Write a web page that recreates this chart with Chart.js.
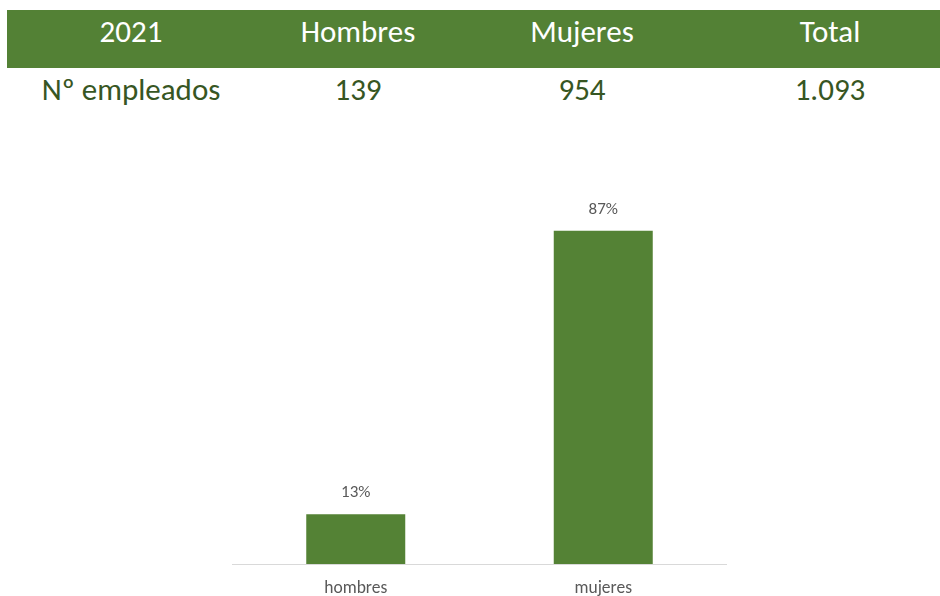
<!DOCTYPE html>
<html>
<head>
<meta charset="utf-8">
<script src="https://cdn.jsdelivr.net/npm/chart.js@4.4.0/dist/chart.umd.min.js"></script>
<style>
  body { margin: 0; width: 940px; height: 596px; background: #fff; position: relative; overflow: hidden; font-family: Carlito, Lato, sans-serif; }
  .banda { position: absolute; left: 7px; top: 10px; width: 933px; height: 58px; background: #538135; }
  .celda { position: absolute; width: 240px; text-align: center; font-size: 31px; line-height: 34px; white-space: nowrap; }
  .cab { top: 14px; color: #ffffff; }
  .fila { top: 72px; color: #375623; }
  #grafico { position: absolute; left: 232px; top: 181px; }
</style>
</head>
<body>
<div class="banda"></div>
<div id="tabla"></div>
<canvas id="grafico" width="495" height="415"></canvas>
<script>
// datos de la tabla
var cabecera = ['2021', 'Hombres', 'Mujeres', 'Total']
var empleados = ['Nº empleados', '139', '954', '1.093']

// datos del gráfico
var categorias = ['hombres', 'mujeres']
var porcentajes = [13, 87]

// centro horizontal de cada columna
var centros = [131, 358, 582, 830]

var tabla = document.getElementById('tabla')
function pintarFila(textos, clase) {
	textos.forEach(function(t, i) {
		var d = document.createElement('div')
		d.className = 'celda ' + clase
		d.style.left = (centros[i] - 120) + 'px'
		d.textContent = t
		tabla.appendChild(d)
	})
}
pintarFila(cabecera, 'cab')
pintarFila(empleados, 'fila')

// etiqueta de porcentaje encima de cada barra
var etiquetas = {
	id: 'etiquetas',
	afterDatasetsDraw: function(chart) {
		var ctx = chart.ctx
		var meta = chart.getDatasetMeta(0)
		ctx.save()
		ctx.fillStyle = '#595959'
		ctx.font = '17px Carlito, Lato, sans-serif'
		ctx.textAlign = 'center'
		ctx.textBaseline = 'middle'
		meta.data.forEach(function(bar, i) {
			ctx.fillText(porcentajes[i] + '%', bar.x, bar.y - 21)
		})
		ctx.restore()
	}
}

var ctx = document.getElementById('grafico').getContext('2d')
new Chart(ctx, {
	type: 'bar',
	data: {
		labels: categorias,
		datasets: [{
			data: porcentajes,
			backgroundColor: '#548235',
			categoryPercentage: 1,
			barPercentage: 0.4
		}]
	},
	options: {
		responsive: false,
		animation: false,
		layout: { padding: 0 },
		plugins: {
			legend: { display: false },
			tooltip: { enabled: false }
		},
		scales: {
			x: {
				grid: { display: false, drawTicks: false },
				border: { display: true, color: '#d9d9d9', width: 1 },
				ticks: {
					color: '#595959',
					padding: 14,
					font: { family: 'Carlito, Lato, sans-serif', size: 17.5 }
				},
				afterFit: function(scale) { scale.height = 32 }
			},
			y: {
				display: false,
				min: 0,
				max: 100
			}
		}
	},
	plugins: [etiquetas]
})
</script>
</body>
</html>
